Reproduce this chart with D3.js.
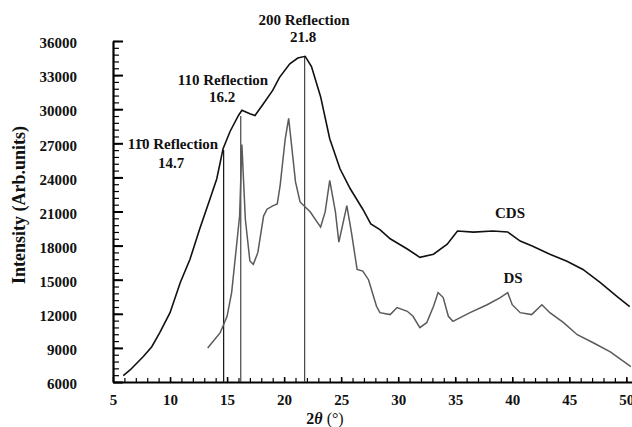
<!DOCTYPE html>
<html>
<head>
<meta charset="utf-8">
<script src="https://cdn.jsdelivr.net/npm/d3@7"></script>
<style>
  body { margin: 0; background: #fff; }
  svg { display: block; }
</style>
</head>
<body>
<svg id="chart" width="632" height="427"></svg>
<script>
// CDS curve (2θ, intensity)
const cdsTheta = [5.9, 6.5, 7.66, 8.4, 9.1, 10.0, 10.9, 11.75, 12.6, 13.5, 14.1, 14.65, 15.26, 16.0, 16.3, 17.0, 17.45, 18.2, 19.0, 19.6, 20.5, 21.2, 21.85, 22.4, 23.2, 24.0, 24.9, 25.8, 26.9, 27.6, 28.4, 29.3, 30.8, 31.9, 33.1, 34.3, 35.2, 36.6, 38.3, 39.6, 40.7, 41.8, 43.3, 44.8, 46.2, 47.7, 49.2, 50.3];
const cdsIntensity = [6560, 7060, 8240, 9100, 10340, 12100, 14760, 16800, 19450, 22100, 23880, 26530, 28040, 29450, 29900, 29600, 29450, 30500, 31650, 32800, 34000, 34500, 34650, 33760, 31100, 27400, 24760, 23000, 21200, 19900, 19400, 18600, 17700, 16970, 17240, 18120, 19280, 19190, 19280, 19200, 18400, 17950, 17240, 16620, 15900, 14760, 13520, 12640];

// DS curve
const dsTheta = [13.3, 14.4, 15.0, 15.4, 15.8, 16.1, 16.3, 16.6, 17.0, 17.3, 17.7, 18.2, 18.5, 19.0, 19.4, 19.65, 20.1, 20.4, 21.0, 21.4, 22.3, 23.2, 23.6, 24.0, 24.5, 24.8, 25.5, 25.9, 26.4, 26.9, 27.4, 28.1, 28.4, 29.3, 29.9, 30.8, 31.3, 31.9, 32.5, 33.1, 33.5, 33.95, 34.4, 34.8, 36.3, 37.8, 38.95, 39.6, 40.0, 40.7, 41.7, 42.6, 43.3, 44.5, 45.7, 47.1, 48.6, 50.4];
const dsIntensity = [9000, 10340, 11780, 13870, 17700, 20600, 26900, 20340, 16650, 16350, 17400, 20600, 21200, 21500, 21660, 23280, 27400, 29200, 23600, 21840, 20960, 19630, 20960, 23730, 20960, 18300, 21510, 19190, 15900, 15760, 15000, 12660, 12100, 11930, 12550, 12220, 11780, 10780, 11220, 12660, 13870, 13430, 11780, 11340, 12100, 12800, 13430, 13870, 12800, 12100, 11930, 12800, 12100, 11220, 10160, 9450, 8650, 7350];

// reflections marked with vertical lines
const reflTheta = [14.7, 16.2, 21.8];
const reflTop = [26400, 29400, 34600];
const reflLabel = ["11\u03040 Reflection", "110 Reflection", "200 Reflection"];
const reflValue = ["14.7", "16.2", "21.8"];

const xTicks = [5, 10, 15, 20, 25, 30, 35, 40, 45, 50];
const yTicks = [6000, 9000, 12000, 15000, 18000, 21000, 24000, 27000, 30000, 33000, 36000];

const FONT = "'Liberation Serif', 'DejaVu Serif', serif";

const svg = d3.select("#chart")
  .attr("font-family", FONT)
  .attr("font-weight", "bold");

const xScale = d3.scaleLinear().domain([5, 50.5]).range([113, 632]);
const yScale = d3.scaleLinear().domain([6000, 36000]).range([382, 41]);

// y axis: minor then major ticks, inward
svg.append("g")
  .attr("transform", "translate(113,0)")
  .call(d3.axisLeft(yScale).tickValues(d3.range(6000, 36001, 600)).tickSize(-6).tickSizeOuter(0).tickFormat(""))
  .call(g => g.select(".domain").remove())
  .selectAll("line").attr("stroke", "#000").attr("stroke-width", 1.2);

svg.append("g")
  .attr("transform", "translate(113,0)")
  .call(d3.axisLeft(yScale).tickValues(yTicks).tickSize(-10).tickSizeOuter(0).tickPadding(36).tickFormat(d3.format("d")))
  .call(g => g.attr("font-family", FONT).attr("font-size", 15))
  .call(g => g.select(".domain").attr("stroke-width", 2.2))
  .call(g => g.selectAll("line").attr("stroke-width", 2))
  .call(g => g.selectAll("text").attr("fill", "#111").attr("dy", "0.45em"));

// x axis
svg.append("g")
  .attr("transform", "translate(0,382)")
  .call(d3.axisBottom(xScale).tickValues(d3.range(6, 51, 1)).tickSize(-4).tickSizeOuter(0).tickFormat(""))
  .call(g => g.select(".domain").remove())
  .selectAll("line").attr("stroke-width", 1.2);

svg.append("g")
  .attr("transform", "translate(0,382)")
  .call(d3.axisBottom(xScale).tickValues(xTicks).tickSize(-5).tickSizeOuter(0).tickPadding(12))
  .call(g => g.attr("font-family", FONT).attr("font-size", 15))
  .call(g => g.select(".domain").attr("stroke-width", 2.2))
  .call(g => g.selectAll("line").attr("stroke-width", 1.5))
  .call(g => g.selectAll("text").attr("fill", "#111"));

// reflection lines
svg.selectAll(".refl")
  .data(reflTheta)
  .join("line")
  .attr("class", "refl")
  .attr("x1", d => xScale(d)).attr("x2", d => xScale(d))
  .attr("y1", yScale(6000))
  .attr("y2", (d, i) => yScale(reflTop[i]))
  .attr("stroke", (d, i) => i === 0 ? "#111" : "#444")
  .attr("stroke-width", 1.2);

// curves
const line = d3.line()
  .x(d => xScale(d[0]))
  .y(d => yScale(d[1]));

svg.append("path")
  .datum(dsTheta.map((t, i) => [t, dsIntensity[i]]))
  .attr("d", line)
  .attr("fill", "none")
  .attr("stroke", "#5a5a5a")
  .attr("stroke-width", 1.5);

svg.append("path")
  .datum(cdsTheta.map((t, i) => [t, cdsIntensity[i]]))
  .attr("d", line)
  .attr("fill", "none")
  .attr("stroke", "#111")
  .attr("stroke-width", 1.6);

// reflection labels
const labelPos = [[173, 149, 171, 168], [223, 85, 222, 102], [304, 25, 303, 42]];
labelPos.forEach((p, i) => {
  svg.append("text").attr("x", p[0]).attr("y", p[1]).attr("text-anchor", "middle")
    .attr("font-size", 15).attr("fill", "#111").text(reflLabel[i]);
  svg.append("text").attr("x", p[2]).attr("y", p[3]).attr("text-anchor", "middle")
    .attr("font-size", 15).attr("fill", "#111").text(reflValue[i]);
});

// series labels
svg.append("text").attr("x", 510).attr("y", 218).attr("text-anchor", "middle")
  .attr("font-size", 15).attr("fill", "#111").text("CDS");
svg.append("text").attr("x", 513).attr("y", 283).attr("text-anchor", "middle")
  .attr("font-size", 15).attr("fill", "#111").text("DS");

// axis titles
svg.append("text")
  .attr("transform", "translate(25,205) rotate(-90)")
  .attr("text-anchor", "middle")
  .attr("font-size", 18).attr("fill", "#111")
  .text("Intensity (Arb.units)");

const xt = svg.append("text").attr("x", 325).attr("y", 424).attr("text-anchor", "middle")
  .attr("font-size", 16).attr("fill", "#111");
xt.append("tspan").text("2");
xt.append("tspan").attr("font-style", "italic").text("θ");
xt.append("tspan").attr("font-weight", "normal").text(" (°)");
</script>
</body>
</html>
